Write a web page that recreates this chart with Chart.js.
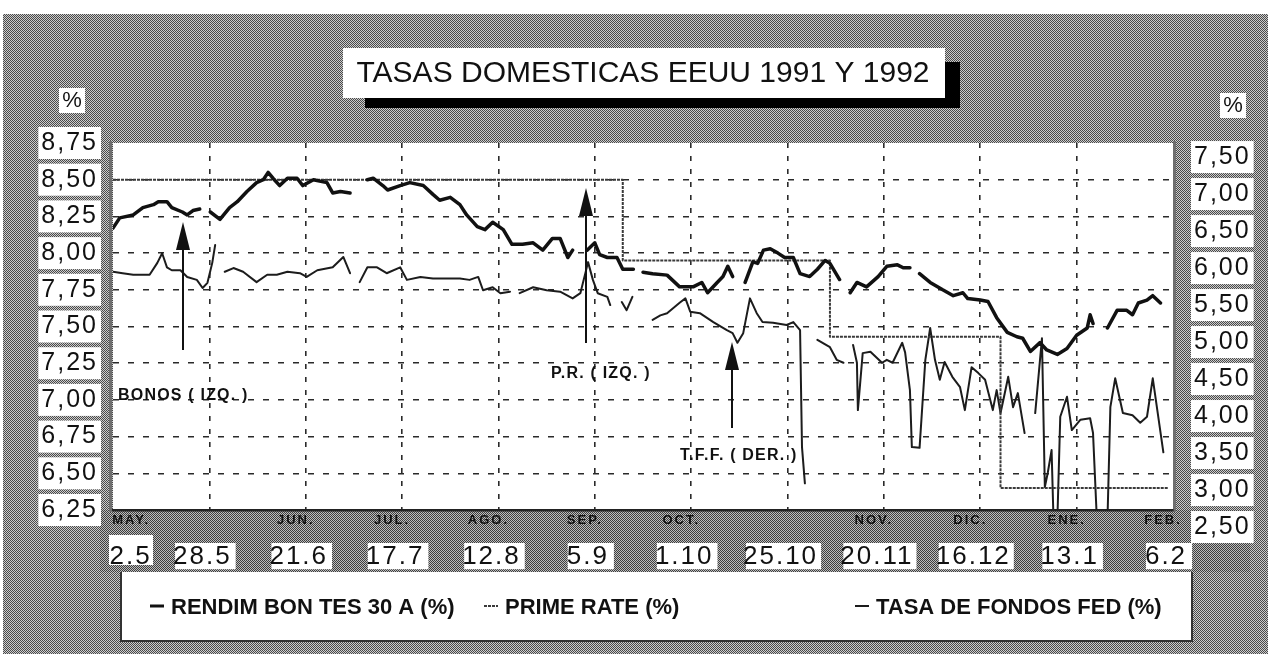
<!DOCTYPE html>
<html>
<head>
<meta charset="utf-8">
<script src="https://cdn.jsdelivr.net/npm/chart.js@4.4.1/dist/chart.umd.min.js"></script>
<style>
  html, body { margin: 0; padding: 0; background: #fff; overflow: hidden; }
  canvas { display: block; }
</style>
</head>
<body>
<canvas id="c" width="1276" height="655"></canvas>
<script>
'use strict';

// ── Data (x = position in date-tick units, 0 = 2.5 ... 11 = 6.2; null = gap) ──
const dateLabels  = ['2.5', '28.5', '21.6', '17.7', '12.8', '5.9', '1.10', '25.10', '20.11', '16.12', '13.1', '6.2'];
const monthLabels = ['MAY.', '', 'JUN.', 'JUL.', 'AGO.', 'SEP.', 'OCT.', '', 'NOV.', 'DIC.', 'ENE.', 'FEB.'];
const leftTicks   = [6.25, 6.5, 6.75, 7.0, 7.25, 7.5, 7.75, 8.0, 8.25, 8.5, 8.75];
const rightTicks  = [2.5, 3.0, 3.5, 4.0, 4.5, 5.0, 5.5, 6.0, 6.5, 7.0, 7.5];

const bondX = [0, 0.07, 0.21, 0.31, 0.42, 0.47, 0.56, 0.61, 0.72, 0.77, 0.83, 0.90, 0.95,
  1.01, 1.11, 1.21, 1.29, 1.39, 1.49, 1.56, 1.61, 1.66, 1.73, 1.81, 1.91, 1.97, 2.08, 2.22, 2.28, 2.36, 2.46, 2.55,
  2.64, 2.70, 2.80, 2.85, 2.98, 3.08, 3.22, 3.32, 3.39, 3.50, 3.60, 3.67, 3.78, 3.86, 3.94, 4.05, 4.14, 4.25, 4.36, 4.46, 4.56, 4.64, 4.72, 4.77, 4.85,
  4.92, 5.00, 5.05, 5.13, 5.23, 5.29, 5.40, 5.45,
  5.50, 5.60, 5.75, 5.88, 6.02, 6.11, 6.17, 6.27, 6.33, 6.38, 6.43, 6.50,
  6.56, 6.64, 6.69, 6.75, 6.82, 6.90, 6.97, 7.06, 7.13, 7.23, 7.31, 7.39, 7.44, 7.54, 7.60,
  7.65, 7.72, 7.82, 7.94, 8.03, 8.14, 8.20, 8.27, 8.32,
  8.37, 8.48, 8.61, 8.72, 8.82, 8.87, 9.00, 9.08, 9.17, 9.28, 9.38, 9.44, 9.52, 9.62, 9.69, 9.80, 9.90, 10.00, 10.11, 10.14, 10.17, 10.25,
  10.32, 10.42, 10.52, 10.58, 10.64, 10.73, 10.79, 10.87];
const bondY = [8.17, 8.24, 8.26, 8.31, 8.33, 8.35, 8.35, 8.31, 8.28, 8.26, 8.29, 8.30, null,
  8.28, 8.23, 8.31, 8.35, 8.42, 8.48, 8.50, 8.55, 8.51, 8.46, 8.51, 8.51, 8.46, 8.50, 8.48, 8.41, 8.42, 8.41, null,
  8.50, 8.51, 8.46, 8.43, 8.46, 8.48, 8.46, 8.40, 8.36, 8.38, 8.33, 8.26, 8.18, 8.16, 8.21, 8.16, 8.06, 8.06, 8.07, 8.02, 8.10, 8.10, 7.97, 8.02, null,
  8.02, 8.07, 7.99, 7.97, 7.97, 7.89, 7.89, null,
  7.87, 7.86, 7.85, 7.77, 7.77, 7.80, 7.73, 7.80, 7.84, 7.91, 7.84, null,
  7.80, 7.94, 7.93, 8.02, 8.03, 8.00, 7.97, 7.97, 7.86, 7.84, 7.89, 7.95, 7.93, 7.82, null,
  7.73, 7.80, 7.77, 7.84, 7.91, 7.92, 7.90, 7.90, null,
  7.86, 7.80, 7.75, 7.71, 7.73, 7.69, 7.68, 7.67, 7.56, 7.46, 7.43, 7.42, 7.33, 7.39, 7.34, 7.31, 7.35, 7.44, 7.49, 7.58, 7.52, null,
  7.49, 7.61, 7.61, 7.58, 7.66, 7.68, 7.71, 7.66];

const primeX = [0, 5.29, 7.44, 9.21, 10.95];
const primeY = [8.50, 7.95, 7.43, 6.40, 6.40];

const fedX = [0, 0.10, 0.21, 0.38, 0.46, 0.51, 0.56, 0.61, 0.70, 0.77, 0.87, 0.93, 0.98, 1.03, 1.06, 1.11,
  1.16, 1.25, 1.35, 1.49, 1.60, 1.70, 1.81, 1.94, 2.01, 2.12, 2.28, 2.39, 2.46, 2.51,
  2.56, 2.64, 2.74, 2.84, 2.98, 3.05, 3.19, 3.32, 3.47, 3.60, 3.70, 3.79, 3.84, 3.94, 4.02, 4.12, 4.17,
  4.22, 4.36, 4.50, 4.64, 4.77, 4.85, 4.93, 4.98, 5.03, 5.13, 5.16, 5.22,
  5.28, 5.33, 5.39, 5.50,
  5.60, 5.68, 5.75, 5.88, 5.94, 5.99, 6.09, 6.23, 6.37, 6.43, 6.48, 6.54, 6.58, 6.61, 6.68, 6.74, 6.85, 6.99, 7.06, 7.13, 7.15, 7.18, 7.25,
  7.31, 7.44, 7.51, 7.58, 7.63,
  7.68, 7.72, 7.73, 7.78, 7.86, 7.98, 8.03, 8.09, 8.19, 8.22, 8.27, 8.29, 8.37, 8.43, 8.48, 8.53, 8.58, 8.63, 8.71, 8.79, 8.84,
  8.91, 8.98, 9.05, 9.13, 9.17, 9.21, 9.24, 9.29, 9.34, 9.39, 9.46, 9.52,
  9.57, 9.64, 9.67, 9.70, 9.74, 9.76, 9.80, 9.83, 9.90, 9.95, 10.04, 10.14, 10.17, 10.21, 10.27,
  10.32, 10.35, 10.40, 10.48, 10.58, 10.66, 10.73, 10.79, 10.90];
const fedY = [5.95, 5.93, 5.91, 5.91, 6.07, 6.20, 6.01, 5.97, 5.97, 5.88, 5.84, 5.73, 5.80, 6.07, 6.31, null,
  5.95, 6.00, 5.95, 5.81, 5.91, 5.91, 5.95, 5.93, 5.88, 5.97, 6.01, 6.15, 5.93, null,
  5.81, 6.01, 6.01, 5.93, 6.01, 5.84, 5.88, 5.86, 5.86, 5.86, 5.84, 5.88, 5.70, 5.74, 5.66, 5.68, null,
  5.66, 5.74, 5.70, 5.68, 5.59, 5.66, 6.08, 5.84, 5.66, 5.61, 5.50, null,
  5.54, 5.43, 5.61, null,
  5.30, 5.36, 5.39, 5.53, 5.59, 5.41, 5.39, 5.27, 5.16, 5.12, 4.99, 5.12, 5.39, 5.59, 5.39, 5.27, 5.26, 5.23, 5.27, 5.16, 3.58, 3.09, null,
  5.03, 4.93, 4.76, 4.72, null,
  4.96, 4.72, 4.08, 4.85, 4.87, 4.72, 4.76, 4.72, 4.99, 4.86, 4.35, 3.58, 3.57, 4.76, 5.19, 4.76, 4.49, 4.73, 4.53, 4.39, 4.08,
  4.66, 4.58, 4.49, 4.08, 4.35, 4.04, 4.22, 4.53, 4.12, 4.31, 3.77, null,
  4.04, 5.05, 3.04, 3.23, 3.54, 2.60, 2.60, 3.99, 4.26, 3.81, 3.95, 3.97, 3.77, 2.60, null,
  2.60, 4.12, 4.51, 4.04, 4.01, 3.91, 3.99, 4.51, 3.51];

const pairs = (xs, ys) => xs.map((x, i) => ({ x, y: ys[i] }));
const FONT = "'Liberation Sans', Arial, sans-serif";
const fmtComma = v => v.toFixed(2).replace('.', ',');

// ── Texture helpers ──────────────────────────────────────────────────────
function dither(g, dark, light) {
  const c = document.createElement('canvas');
  c.width = c.height = 2;
  const p = c.getContext('2d');
  p.fillStyle = light; p.fillRect(0, 0, 2, 2);
  p.fillStyle = dark;  p.fillRect(0, 0, 1, 1); p.fillRect(1, 1, 1, 1);
  return g.createPattern(c, 'repeat');
}

function arrowUp(g, x, yBase, yTip) {
  g.strokeStyle = '#111'; g.lineWidth = 2;
  g.beginPath(); g.moveTo(x, yBase); g.lineTo(x, yTip + 20); g.stroke();
  g.fillStyle = '#111';
  g.beginPath(); g.moveTo(x, yTip); g.lineTo(x - 7, yTip + 28); g.lineTo(x + 7, yTip + 28); g.closePath(); g.fill();
}

const decor = {
  id: 'decor',
  beforeDraw(chart) {
    const g = chart.ctx, a = chart.chartArea;
    g.save();
    g.fillStyle = '#fff'; g.fillRect(0, 0, 1276, 655);
    g.fillStyle = dither(g, '#4a4a4a', '#cdcdcd');
    g.fillRect(3, 14, 1265, 640);
    g.fillStyle = dither(g, '#3e3e3e', '#bdbdbd');
    g.fillRect(100, a.bottom, 1150, 62);
    g.fillStyle = '#fff';
    g.fillRect(a.left, a.top, a.right - a.left, a.bottom - a.top);
    // white patch behind the first date label (which sits right of its tick)
    g.fillRect(a.left - 4, 535, 44, 30);
    g.fillStyle = '#6f6f6f';
    g.fillRect(a.left - 4, a.top - 2, 3, a.bottom - a.top + 4);
    g.fillRect(a.right, a.top - 2, 3, a.bottom - a.top + 4);
    g.restore();
    g.letterSpacing = '2px';
  },
  beforeDatasetsDraw(chart) {
    chart.ctx.letterSpacing = '0px';
  },
  afterDraw(chart) {
    const g = chart.ctx;
    g.save();
    g.letterSpacing = '0px';
    g.textBaseline = 'middle';

    // title box with shadow
    g.fillStyle = '#000'; g.fillRect(365, 62, 595, 46);
    g.fillStyle = '#fff'; g.fillRect(343, 48, 602, 50);
    g.fillStyle = '#111'; g.font = `30px ${FONT}`; g.textAlign = 'center';
    g.fillText('TASAS DOMESTICAS EEUU 1991 Y 1992', 643, 74);

    // % labels
    g.fillStyle = '#fff'; g.fillRect(59, 88, 26, 25); g.fillRect(1220, 93, 26, 25);
    g.fillStyle = '#111'; g.font = `22px ${FONT}`;
    g.fillText('%', 72, 101); g.fillText('%', 1233, 106);

    // annotations
    g.font = `bold 16px ${FONT}`; g.textAlign = 'left'; g.letterSpacing = '1.2px';
    g.fillText('BONOS ( IZQ. )', 118, 396);
    g.fillText('P.R. ( IZQ. )', 551, 374);
    g.fillText('T.F.F. ( DER. )', 680, 456);
    arrowUp(g, 183, 350, 222);
    arrowUp(g, 586, 343, 188);
    arrowUp(g, 732, 428, 342);

    // legend box
    g.letterSpacing = '0px';
    g.fillStyle = '#fff'; g.fillRect(120, 572, 1072, 69);
    g.strokeStyle = '#333'; g.lineWidth = 2;
    g.beginPath(); g.moveTo(121, 572); g.lineTo(121, 641); g.lineTo(1192, 641); g.lineTo(1192, 572); g.stroke();
    const legendX = [150, 484, 855];
    g.font = `bold 22px ${FONT}`;
    chart.data.datasets.forEach((ds, i) => {
      const x = legendX[i], y = 608;
      g.strokeStyle = ds.borderColor; g.lineWidth = Math.min(ds.borderWidth, 3);
      g.setLineDash(ds.borderDash || []);
      g.beginPath(); g.moveTo(x, y - 2); g.lineTo(x + 14, y - 2); g.stroke();
      g.setLineDash([]);
      g.fillStyle = '#111';
      g.fillText(ds.label, x + 21, y);
    });
    g.restore();
  }
};

const lineDefaults = { pointRadius: 0, tension: 0, fill: false, spanGaps: false, borderJoinStyle: 'round', borderCapStyle: 'round' };

const chart = new Chart(document.getElementById('c').getContext('2d'), {
  type: 'line',
  data: {
    datasets: [
      { ...lineDefaults, label: 'RENDIM BON TES 30 A (%)', data: pairs(bondX, bondY),
        xAxisID: 'x', yAxisID: 'y', borderColor: '#111', borderWidth: 3.5 },
      { ...lineDefaults, label: 'PRIME RATE (%)', data: pairs(primeX, primeY), stepped: 'before',
        xAxisID: 'x', yAxisID: 'y', borderColor: '#3a3a3a', borderWidth: 2, borderDash: [3, 1], borderCapStyle: 'butt' },
      { ...lineDefaults, label: 'TASA DE FONDOS FED (%)', data: pairs(fedX, fedY),
        xAxisID: 'x', yAxisID: 'y2', borderColor: '#1c1c1c', borderWidth: 2 }
    ]
  },
  options: {
    responsive: false,
    animation: false,
    devicePixelRatio: 1,
    layout: { padding: { top: 143, left: 0, right: 0, bottom: 85 } },
    plugins: { legend: { display: false }, tooltip: { enabled: false } },
    scales: {
      x: {
        type: 'linear', position: 'bottom', min: 0, max: 11, weight: 0,
        afterBuildTicks: s => { s.ticks = dateLabels.map((_, i) => ({ value: i })); },
        afterFit: s => { s.height = 20; },
        grid: {
          drawTicks: false, lineWidth: 1.6,
          color: c => (c.tick && (c.tick.value === 0 || c.tick.value === 11)) ? 'rgba(0,0,0,0)' : '#2a2a2a'
        },
        border: { display: true, color: '#222', width: 2.5, dash: [5, 8] },
        ticks: {
          padding: 3, autoSkip: false, maxRotation: 0, color: '#111', labelOffset: -10,
          font: { family: FONT, size: 13, weight: 'bold' },
          // first label sits to the right of the corner, as in the print
          callback: (v, i) => (i === 0 ? '          ' : '') + monthLabels[i]
        }
      },
      x2: {
        type: 'linear', position: 'bottom', min: 0, max: 11, weight: 1,
        afterBuildTicks: s => { s.ticks = dateLabels.map((_, i) => ({ value: i })); },
        afterFit: s => { s.height = 40; },
        grid: { display: false },
        border: { display: false },
        ticks: {
          padding: 3, autoSkip: false, maxRotation: 0, color: '#111', labelOffset: -7,
          font: { family: FONT, size: 26 },
          showLabelBackdrop: true,
          backdropColor: c => c.index === 0 ? 'rgba(0,0,0,0)' : '#fff',
          backdropPadding: { top: -2, bottom: -3, left: 2, right: 8 },
          callback: (v, i) => (i === 0 ? '\u2007\u2007\u2007' : '') + dateLabels[i]
        }
      },
      y: {
        position: 'left', min: 6.25, max: 8.75,
        afterBuildTicks: s => { s.ticks = leftTicks.map(v => ({ value: v })); },
        afterFit: s => { s.width = 113; },
        grid: {
          drawTicks: false, lineWidth: 1.6,
          color: c => (c.tick && (c.tick.value === 6.25 || c.tick.value === 8.75)) ? 'rgba(0,0,0,0)' : '#2a2a2a'
        },
        border: { display: false, dash: [6, 9] },
        ticks: {
          padding: 15, color: '#111', font: { family: FONT, size: 25 },
          showLabelBackdrop: true, backdropColor: '#fff',
          backdropPadding: { top: 1, bottom: 1, left: 11, right: 3 },
          callback: v => fmtComma(v)
        }
      },
      y2: {
        position: 'right', min: 2.73, max: 7.69,
        afterBuildTicks: s => { s.ticks = rightTicks.map(v => ({ value: v })); },
        afterFit: s => { s.width = 103; },
        grid: { display: false, drawTicks: false },
        border: { display: false },
        ticks: {
          padding: 21, color: '#111', font: { family: FONT, size: 25 },
          showLabelBackdrop: true, backdropColor: '#fff',
          backdropPadding: { top: 1, bottom: 1, left: 3, right: 11 },
          callback: v => fmtComma(v)
        }
      }
    }
  },
  plugins: [decor]
});
</script>
</body>
</html>
